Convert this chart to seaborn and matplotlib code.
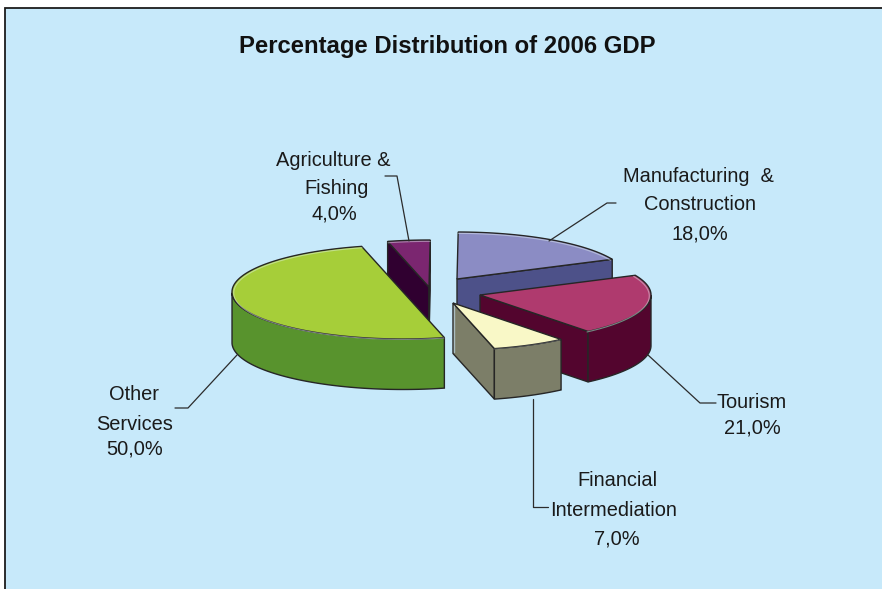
import numpy as np
import matplotlib
matplotlib.use("Agg")
import matplotlib.pyplot as plt
from matplotlib.patches import Polygon, Rectangle
import seaborn as sns

# GDP shares, listed clockwise from the first slice
sectors = ["Agriculture", "Manufacturing", "Tourism", "Financial", "Other"]
shares = [4.0, 18.0, 21.0, 7.0, 50.0]

top_colors = ["#7B2670", "#8B8CC4", "#AF3A6E", "#F9F8C7", "#A6CE39"]
side_colors = ["#300030", "#4D5189", "#53052E", "#7C7E68", "#58932D"]

# Layout of the exploded pie, in figure pixels
apex = {"Agriculture": (429, 287), "Manufacturing": (457, 279), "Tourism": (480, 295),
        "Financial": (453, 303), "Other": (403, 292)}
RX, RY, DEPTH = 171, 47, 50.5
START_ANGLE = 104.0
draw_order = ["Agriculture", "Manufacturing", "Tourism", "Other", "Financial"]

BG = "#C7E9FA"
EDGE = "#262626"
RIM = "#E4F1F4"

sns.set_theme(style="white")
plt.rcParams["font.family"] = ["Liberation Sans", "DejaVu Sans"]

fig = plt.figure(figsize=(8.82, 5.89), dpi=100, facecolor="white")
ax = fig.add_axes([0, 0, 1, 1])
ax.set_xlim(0, 882)
ax.set_ylim(589, 0)
ax.axis("off")
sns.despine(ax=ax, left=True, bottom=True)

ax.add_patch(Rectangle((4.5, 8), 900, 600, facecolor=BG, edgecolor="#1c1c1c", lw=1.3, zorder=0))


def rim(c, deg):
    t = np.radians(deg)
    return np.column_stack([c[0] + RX * np.cos(t), c[1] - RY * np.sin(t)])


def down(pts):
    return pts + np.array([0, DEPTH])


# Each slice runs clockwise from its upper angle to its lower one
spans = {}
a = START_ANGLE
for name, v in zip(sectors, shares):
    spans[name] = (a, a - v * 3.6)
    a -= v * 3.6

zo = 1
for name in draw_order:
    i = sectors.index(name)
    hi, lo = spans[name]
    c = np.array(apex[name], float)
    top_col, side_col = top_colors[i], side_colors[i]
    arc_deg = np.linspace(hi, lo, 160)
    arc = rim(c, arc_deg)

    # Flat cut faces that turn toward the viewer
    if np.cos(np.radians(hi)) < 0:
        e = rim(c, [hi])[0]
        ax.add_patch(Polygon([c, e, e + [0, DEPTH], c + [0, DEPTH]], fc=side_col, ec=EDGE, lw=1, zorder=zo))
    if np.cos(np.radians(lo)) > 0:
        e = rim(c, [lo])[0]
        ax.add_patch(Polygon([c, e, e + [0, DEPTH], c + [0, DEPTH]], fc=side_col, ec=EDGE, lw=1, zorder=zo))
        if name == "Financial":
            ax.plot([c[0] + 0.8] * 2, [c[1] + 2, c[1] + DEPTH - 2], color="#A9BCC0", lw=1, zorder=zo + 0.1)

    # Curved outer wall: only the front half of the ellipse shows
    front = arc_deg[np.sin(np.radians(arc_deg)) <= 0.0]
    if front.size:
        wall = rim(c, front)
        ax.add_patch(Polygon(np.vstack([wall, down(wall)[::-1]]), fc=side_col, ec=EDGE, lw=1, zorder=zo + 0.2))

    # Upper surface with a pale highlight along the back of the rim
    ax.add_patch(Polygon(np.vstack([c, arc]), fc=top_col, ec=EDGE, lw=1, joinstyle="miter", zorder=zo + 0.4))
    inner = c + (arc - c) * 0.99
    ax.plot(inner[:, 0], inner[:, 1] + 0.9, color=RIM, lw=0.8,
            alpha=0.45 if name != "Financial" else 0.2, zorder=zo + 0.5)
    zo += 1


def pct(name):
    v = shares[sectors.index(name)]
    return f"{v:.1f}".replace(".", ",") + "%"


TXT = "#1a1a1a"
FS = 14.4
label_lines = [
    ("Agriculture &", 333, 160), ("Fishing", 337, 189), (pct("Agriculture"), 334, 214),
    ("Manufacturing  &", 698, 176), ("Construction", 700, 205), (pct("Manufacturing"), 700, 234),
    ("Tourism", 752, 403), (pct("Tourism"), 752, 428),
    ("Financial", 617, 481), ("Intermediation", 614, 510), (pct("Financial"), 617, 539),
    ("Other", 134, 395), ("Services", 135, 424), (pct("Other"), 135, 449),
]
for s, x, y in label_lines:
    ax.text(x, y, s, ha="center", va="center", fontsize=FS, color=TXT, zorder=20)

ax.text(447, 46, "Percentage Distribution of 2006 GDP", ha="center", va="center",
        fontsize=17.2, fontweight="bold", color="#111111", zorder=20)

# Leader lines from the labels to their slices
leaders = [
    ([385, 397, 409], [176, 176, 241]),
    ([616, 607, 549], [203, 203, 241]),
    ([716, 700, 648], [403, 403, 355]),
    ([533, 533, 548], [399, 507, 507]),
    ([237, 188, 175], [355, 408, 408]),
]
for xs, ys in leaders:
    ax.plot(xs, ys, color="#2b2b2b", lw=0.9, zorder=10)

fig.savefig("out.png", dpi=100, facecolor="white")
